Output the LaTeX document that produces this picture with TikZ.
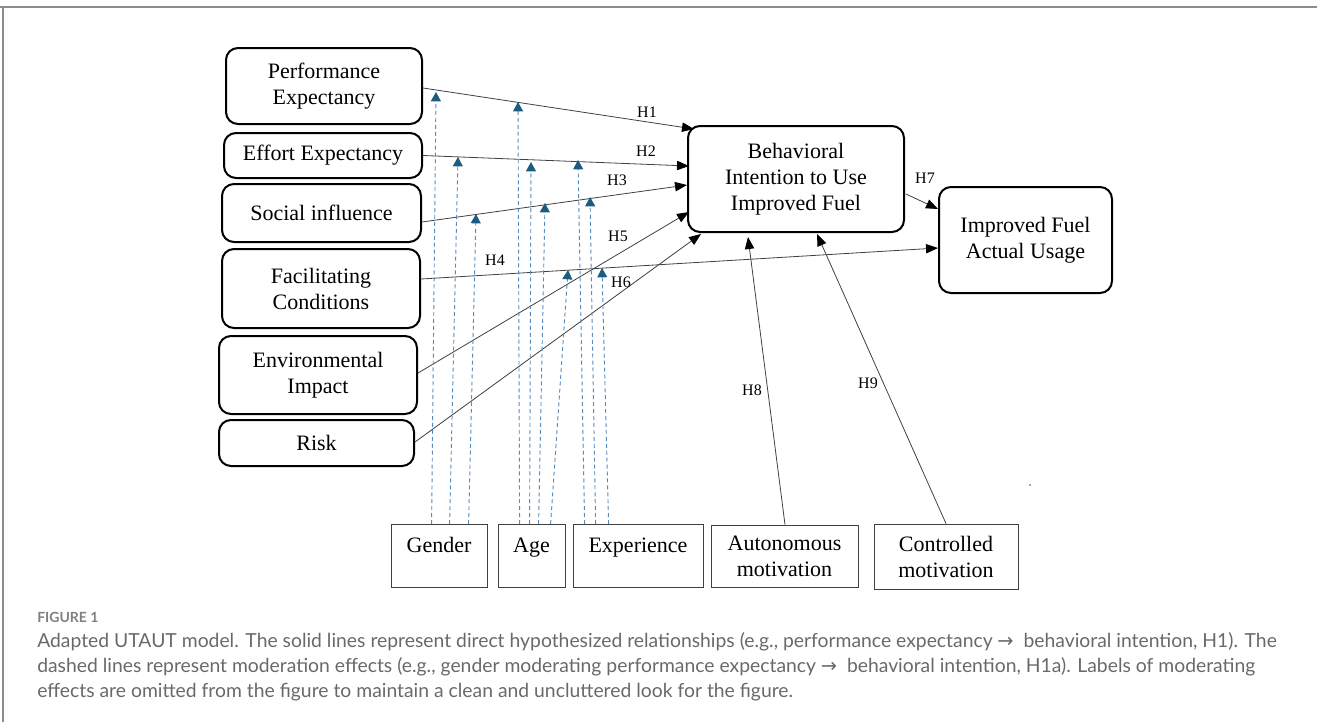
\documentclass[tikz,border=0pt]{standalone}
\usepackage{fontspec}
\setmainfont{Liberation Serif}
\newfontfamily\capfont{Lato}
\newfontfamily\arrowfont{DejaVu Sans}
\usetikzlibrary{arrows.meta,calc}
\definecolor{modline}{RGB}{86,140,190}
\definecolor{modtip}{RGB}{28,92,128}
\definecolor{capgray}{RGB}{105,105,105}
\definecolor{framegray}{RGB}{140,140,140}
\begin{document}
\begin{tikzpicture}[x=0.75pt,y=-0.75pt,
  construct/.style={draw,line width=1.5pt,rounded corners=9pt,align=center,
    font=\fontsize{16.5}{19.5}\selectfont,inner sep=0pt},
  modbox/.style={draw=black!75,line width=0.6pt,inner sep=0pt,align=center,
    font=\fontsize{16.5}{19.5}\selectfont},
  topbox/.style={modbox,anchor=north,text height=21pt,text depth=26.25pt},
  hyp/.style={draw=black!75,line width=0.6pt,-{Triangle[length=9pt,width=7pt,color=black]}},
  mod/.style={draw=modline,line width=0.7pt,dash pattern=on 3pt off 2.2pt,
    -{Triangle[length=7pt,width=7.5pt,color=modtip]}},
  hlab/.style={font=\fontsize{12}{14}\selectfont,inner sep=0pt},
  captext/.style={anchor=base west,inner sep=0pt,text=capgray,font=\capfont\fontsize{14.5}{16}\selectfont}
]
\useasboundingbox (0,0) rectangle (1317,722);
% frame
\draw[framegray,line width=1.5pt] (0,7) -- (1317,7);
\draw[framegray,line width=1.2pt] (3,7) -- (3,722);

% constructs
\node[construct,minimum width=147pt,minimum height=57pt] (pe) at (324,86) {Performance\\Expectancy};
\node[construct,minimum width=148.5pt,minimum height=33.75pt] (ee) at (323,155.5) {Effort Expectancy};
\node[construct,minimum width=149.25pt,minimum height=43.5pt] (si) at (321.5,213) {Social influence};
\node[construct,minimum width=148.5pt,minimum height=59.25pt] (fc) at (321,288.5) {Facilitating\\Conditions};
\node[construct,minimum width=148.5pt,minimum height=58.5pt] (ei) at (318,375) {Environmental\\Impact};
\node[construct,minimum width=146.25pt,minimum height=34.5pt] (risk) at (316.5,443) {Risk};
\node[construct,minimum width=162pt,minimum height=79.5pt] (bi) at (796,179) {Behavioral\\Intention to Use\\Improved Fuel};
\node[construct,minimum width=129.75pt,minimum height=79.5pt] (iu) at (1025.5,240) {Improved Fuel\\Actual Usage};

% moderators
\node[topbox,minimum width=72pt] (gender) at (439,524) {Gender};
\node[topbox,minimum width=50.25pt] (age) at (531.5,524) {Age};
\node[topbox,minimum width=97.5pt] (exp) at (638,524) {Experience};
\node[modbox,minimum width=110.25pt,minimum height=46.5pt] (au) at (784.5,556) {Autonomous\\motivation};
\node[modbox,minimum width=108pt,minimum height=48.75pt] (co) at (946,556.5) {Controlled\\motivation};

% direct hypotheses
\draw[hyp] ([shift={(0,2)}]pe.east) -- ([shift={(7,4)}]bi.north west);
\draw[hyp] (ee.east) -- ([shift={(2,-13)}]bi.west);
\draw[hyp] ([shift={(0,9)}]si.east) -- ([shift={(0,6)}]bi.west);
\draw[hyp] ([shift={(0,-9.5)}]fc.east) -- ([shift={(0,8)}]iu.west);
\draw[hyp] ([shift={(0,-2)}]ei.east) -- ([shift={(2,33)}]bi.west);
\draw[hyp] ([shift={(0,-1)}]risk.east) -- ([shift={(14,1)}]bi.south west);
\draw[hyp] ([shift={(1,15)}]bi.east) -- ([shift={(0,-31)}]iu.west);
\draw[hyp] ([shift={(0.5,0)}]au.north) -- ([shift={(-48,4)}]bi.south);
\draw[hyp] (co.north) -- ([shift={(21,1)}]bi.south);

% labels
\node[hlab] (h1) at (647,112) {H1};
\node[hlab] (h2) at (646,151) {H2};
\node[hlab] (h3) at (617,180) {H3};
\node[hlab] (h4) at (495,260) {H4};
\node[hlab] (h5) at (618,236) {H5};
\node[hlab] (h6) at (621,282) {H6};
\node[hlab] (h7) at (925,178) {H7};
\node[hlab] (h8) at (752,390) {H8};
\node[hlab] (h9) at (868,383) {H9};

% moderation tips
\coordinate (tg1) at (436,92);
\coordinate (tg2) at (458,157);
\coordinate (tg3) at (476,214);
\coordinate (ta1) at (518,102);
\coordinate (ta2) at (531,162);
\coordinate (ta3) at (545,203);
\coordinate (ta4) at (568,270);
\coordinate (te1) at (578,160);
\coordinate (te2) at (590,197);
\coordinate (te3) at (602,268);

\draw[mod] ([shift={(41,0)}]gender.north west) -- (tg1);
\draw[mod] ([shift={(59,0)}]gender.north west) -- (tg2);
\draw[mod] ([shift={(78,0)}]gender.north west) -- (tg3);
\draw[mod] ([shift={(22,0)}]age.north west) -- (ta1);
\draw[mod] ([shift={(32,0)}]age.north west) -- (ta2);
\draw[mod] ([shift={(41,0)}]age.north west) -- (ta3);
\draw[mod] ([shift={(53,0)}]age.north west) -- (ta4);
\draw[mod] ([shift={(12,0)}]exp.north west) -- (te1);
\draw[mod] ([shift={(23,0)}]exp.north west) -- (te2);
\draw[mod] ([shift={(36,0)}]exp.north west) -- (te3);

% stray dot
\fill[black!70] (1030,485) circle (0.6pt);

% caption
\node[anchor=base west,inner sep=0pt,text=capgray!85,font=\capfont\bfseries\fontsize{10.5}{12}\selectfont] (figlab) at (37,622) {FIGURE 1};
\node[captext] (cap1) at (37,647) {Adapted UTAUT model. The solid lines represent direct hypothesized relationships (e.g., performance expectancy {\arrowfont →}\ \ behavioral intention, H1). The};
\node[captext] (cap2) at (37,672) {dashed lines represent moderation effects (e.g., gender moderating performance expectancy {\arrowfont →}\ \ behavioral intention, H1a). Labels of moderating};
\node[captext] (cap3) at (37,697) {effects are omitted from the figure to maintain a clean and uncluttered look for the figure.};
\end{tikzpicture}
\end{document}
